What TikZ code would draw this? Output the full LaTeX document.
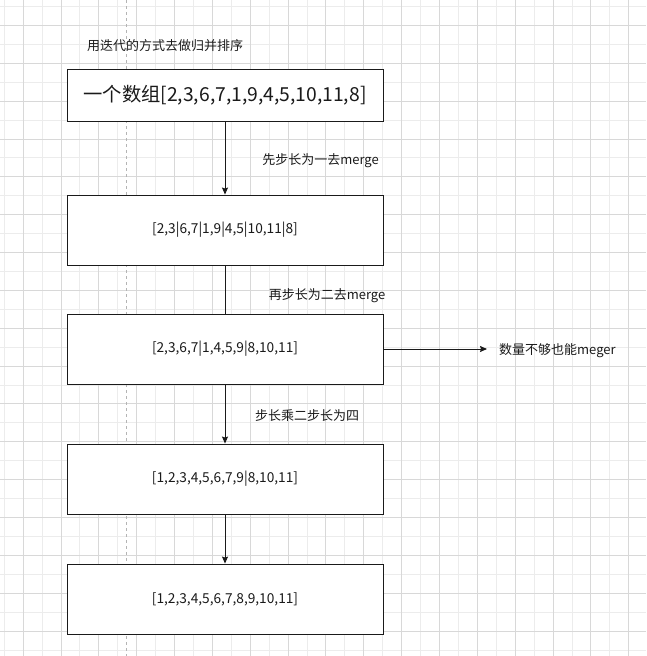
\documentclass[tikz,border=0pt]{standalone}
\usepackage{fontspec}
\setmainfont{Noto Sans CJK SC}
\usepackage{tikz}
\usetikzlibrary{%
	calc,%
	arrows.meta
}
\definecolor{gridmajor}{RGB}{216,216,216}
\definecolor{gridminor}{RGB}{236,236,236}
\definecolor{pageline}{RGB}{180,180,180}
\definecolor{ink}{RGB}{26,26,26}

\begin{document}
\begin{tikzpicture}[x=1pt,y=-1pt,
		stepbox/.style={draw=ink,line width=0.9pt,fill=white,minimum width=316pt,minimum height=70pt,inner sep=0pt,font=\fontsize{13.7}{16}\selectfont,text=ink},
		note/.style={inner sep=0pt,font=\fontsize{13}{15}\selectfont,text=ink},
		flow/.style={draw=ink,line width=0.9pt,-{Stealth[length=7pt,width=6pt,inset=1pt]}}
	]
	\useasboundingbox (0,0) rectangle (646,656);
	% Grid
	\foreach \k in {0,...,17} {
		\draw[gridminor,line width=0.7pt] ({4.1+37.85*\k},0) -- ({4.1+37.85*\k},656);
		\draw[gridminor,line width=0.7pt] (0,{6.4+37.85*\k}) -- (646,{6.4+37.85*\k});
	}
	\foreach \k in {0,...,17} {
		\draw[gridmajor,line width=0.7pt] ({23+37.85*\k},0) -- ({23+37.85*\k},656);
		\draw[gridmajor,line width=0.7pt] (0,{25.3+37.85*\k}) -- (646,{25.3+37.85*\k});
	}
	\draw[pageline,line width=0.7pt,dash pattern=on 3pt off 3pt] (126.7,0) -- (126.7,656);
	
	% Boxes
	\node[stepbox,minimum height=52pt,font=\fontsize{19.3}{22}\selectfont] (arr) at (225,95) {一个数组[2,3,6,7,1,9,4,5,10,11,8]};
	\node[stepbox] (pass1) at (225,230) {[2,3|6,7|1,9|4,5|10,11|8]};
	\node[stepbox] (pass2) at (225,349) {[2,3,6,7|1,4,5,9|8,10,11]};
	\node[stepbox] (pass3) at (225,479) {[1,2,3,4,5,6,7,9|8,10,11]};
	\node[stepbox] (sorted) at (225,599) {[1,2,3,4,5,6,7,8,9,10,11]};
	
	% Labels
	\node[note] (title) at (165,46) {用迭代的方式去做归并排序};
	\node[note] (len1) at (320.5,161) {先步长为一去merge};
	\node[note] (len2) at (327,296) {再步长为二去merge};
	\node[note] (len4) at (307,416) {步长乘二步长为四};
	\node[note,anchor=west] (rest) at (499,351) {数量不够也能meger};
	\coordinate (restend) at (487,349);
	
	% Connectors
	\draw[flow] (arr) -- (pass1);
	\draw[draw=ink,line width=0.9pt] (pass1) -- (pass2);
	\draw[flow] (pass2) -- (pass3);
	\draw[flow] (pass3) -- (sorted);
	\draw[flow] (pass2.east) -- (restend);
\end{tikzpicture}
\end{document}
